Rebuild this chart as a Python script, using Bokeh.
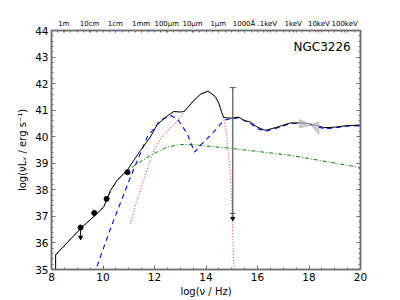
from bokeh.plotting import figure
from bokeh.models import Range1d, LinearAxis, SingleIntervalTicker, FixedTicker
from bokeh.embed import file_html
from bokeh.resources import INLINE
from bokeh.core.properties import value

# ---------------- data ----------------
total_x = [8.16, 8.16, 8.6, 9.13, 9.77, 10.03, 10.16, 10.29, 10.55, 10.94, 11.46, 11.84,
           12.1, 12.49, 12.75, 13.0, 13.14, 13.3, 13.53, 13.79, 14.08, 14.37, 14.5, 14.6,
           14.69, 15.0, 15.27, 15.47, 15.73, 15.99, 16.31, 16.76, 17.28, 17.8, 18.2, 18.58,
           19.0, 19.5, 20.0]
total_y = [34.8, 35.55, 36.0, 36.54, 37.11, 37.36, 37.67, 37.98, 38.36, 38.74, 39.49, 39.99,
           40.45, 40.78, 40.95, 40.93, 40.95, 41.1, 41.37, 41.6, 41.72, 41.5, 41.25, 40.95,
           40.72, 40.7, 40.74, 40.62, 40.55, 40.36, 40.24, 40.36, 40.52, 40.52, 40.45, 40.34,
           40.36, 40.42, 40.44]

red_x = [11.07, 11.3, 11.58, 11.8, 12.0, 12.3, 12.75, 13.01, 13.27, 13.53, 13.79, 14.08,
         14.37, 14.56, 14.76, 14.95, 15.02, 15.08, 15.1]
red_y = [36.73, 37.55, 38.36, 39.0, 39.55, 40.0, 40.45, 40.74, 41.1, 41.37, 41.6, 41.71,
         41.5, 41.12, 40.36, 38.61, 36.98, 35.0, 34.0]

blue_x = [9.65, 10.29, 11.07, 11.72, 12.23, 12.62, 12.88, 13.27, 13.55, 13.79, 14.3, 14.69,
          15.0, 15.27, 15.5, 15.73, 16.0, 16.31, 16.76, 17.28, 17.8, 18.2, 18.58, 19.0,
          19.5, 20.0]
blue_y = [34.8, 36.54, 38.49, 39.99, 40.62, 40.8, 40.68, 40.12, 39.42, 39.68, 40.18, 40.62,
          40.68, 40.72, 40.6, 40.5, 40.3, 40.2, 40.33, 40.5, 40.5, 40.42, 40.3, 40.33,
          40.4, 40.42]

green_x = [8.16, 9.13, 9.77, 10.03, 10.16, 10.36, 10.55, 10.94, 11.2, 11.84, 12.49, 13.01,
           13.5, 15.08, 17.28, 19.87, 20.0]
green_y = [35.55, 36.54, 37.11, 37.36, 37.67, 38.05, 38.36, 38.7, 38.9, 39.3, 39.61, 39.71,
           39.7, 39.55, 39.30, 38.86, 38.84]

obs_x = [9.13, 9.66, 10.14, 10.95]
obs_y = [36.58, 37.13, 37.66, 38.66]
limit_x = [9.13]
limit_top = [36.58]
limit_tip = [36.21]

uv_x = [15.04]
uv_top = [41.85]
uv_cap = [37.11]
uv_tip = [36.92]

bow_left_x = [17.64, 17.64, 18.09]
bow_left_y = [40.64, 40.34, 40.44]
bow_right_x = [18.09, 18.38, 18.38]
bow_right_y = [40.44, 40.55, 40.09]

top_ticks = [8.477, 9.477, 10.477, 11.477, 12.477, 13.477, 14.477, 15.477,
             16.383, 17.383, 18.383, 19.383]
top_labels = ["1m", "10cm", "1cm", "1mm", "100\u03bcm", "10\u03bcm", "1\u03bcm",
              "1000\u00c5", ".1keV", "1keV", "10keV", "100keV"]

title_text = "NGC3226"

FONT = "DejaVu Sans"
FRAME = "#6f6f6f"

p = figure(width=400, height=300, output_backend="svg", toolbar_location=None,
           x_range=Range1d(8, 20), y_range=Range1d(35, 44),
           min_border_left=51, min_border_right=40, min_border_top=30,
           min_border_bottom=31, x_axis_location=None, y_axis_location=None)
p.grid.visible = False
p.outline_line_color = FRAME
p.outline_line_width = 1.5
p.background_fill_color = "white"
p.border_fill_color = "white"


def style_axis(ax, labels=True, size="10.5px"):
    ax.axis_line_color = FRAME
    ax.axis_line_width = 1.5
    ax.major_tick_line_color = FRAME
    ax.minor_tick_line_color = FRAME
    ax.major_tick_in = 4
    ax.major_tick_out = 0
    ax.minor_tick_in = 2
    ax.minor_tick_out = 0
    ax.major_label_text_font = FONT
    ax.major_label_text_font_size = size
    ax.major_label_text_color = "black"
    ax.axis_label_text_font = FONT
    ax.axis_label_text_font_size = "10px"
    ax.axis_label_text_font_style = "normal"
    ax.axis_label_text_color = "black"
    if not labels:
        ax.major_label_text_alpha = 0
        ax.major_label_text_font_size = "1px"


xax = LinearAxis(ticker=SingleIntervalTicker(interval=2, num_minor_ticks=4),
                 axis_label="log(\u03bd / Hz)")
style_axis(xax)
xax.major_label_standoff = 3
xax.axis_label_standoff = 2
p.add_layout(xax, "below")

yax = LinearAxis(ticker=SingleIntervalTicker(interval=1, num_minor_ticks=5),
                 axis_label="log(\u03bdL\u1d65 / erg s\u207b\u00b9)")
style_axis(yax)
yax.major_label_standoff = 3
yax.axis_label_standoff = 4
p.add_layout(yax, "left")

rax = LinearAxis(ticker=SingleIntervalTicker(interval=1, num_minor_ticks=5))
style_axis(rax, labels=False)
p.add_layout(rax, "right")

minor_top = [8 + 0.25 * i for i in range(49)]
tax = LinearAxis(ticker=FixedTicker(ticks=top_ticks, minor_ticks=minor_top))
style_axis(tax, size="7px")
tax.major_tick_in = 2
tax.major_label_standoff = 3
tax.major_label_overrides = {t: l for t, l in zip(top_ticks, top_labels)}
p.add_layout(tax, "above")

# model components
p.line(green_x, green_y, line_color="#008000", line_width=1, line_dash="4 2 1 2")
p.line(red_x, red_y, line_color="#ff4040", line_width=1.1, line_dash="1 2")
p.line(blue_x, blue_y, line_color="#0000ff", line_width=1.1, line_dash="5 4")
p.line(total_x, total_y, line_color="black", line_width=1)

# X-ray bowtie
p.patch(bow_left_x, bow_left_y, fill_color="#c4c4c4", fill_alpha=0.75,
        line_color="#aaaaaa", line_width=0.8)
p.patch(bow_right_x, bow_right_y, fill_color="#c4c4c4", fill_alpha=0.75,
        line_color="#aaaaaa", line_width=0.8)

# UV upper limit bar
p.segment(uv_x, uv_top, uv_x, uv_tip, line_color="#555555", line_width=1.2)
p.scatter(uv_x, uv_top, marker="dash", size=6, line_color="#555555", line_width=1)
p.scatter(uv_x, uv_cap, marker="dash", size=5, line_color="#555555", line_width=1)
p.scatter(uv_x, uv_tip, marker="inverted_triangle", size=4, fill_color="black",
          line_color="black")

# radio points
p.segment(limit_x, limit_top, limit_x, limit_tip, line_color="black", line_width=1)
p.scatter(limit_x, limit_tip, marker="inverted_triangle", size=4, fill_color="black",
          line_color="black")
p.scatter(obs_x, obs_y, marker="circle", size=5, fill_color="black", line_color="black")

p.text(x=[19.62], y=[43.37], text=[title_text], text_align="right",
       text_baseline="middle", text_font=value(FONT), text_font_size="12px",
       text_color="black")

open("out.html", "w").write(file_html(p, INLINE))
